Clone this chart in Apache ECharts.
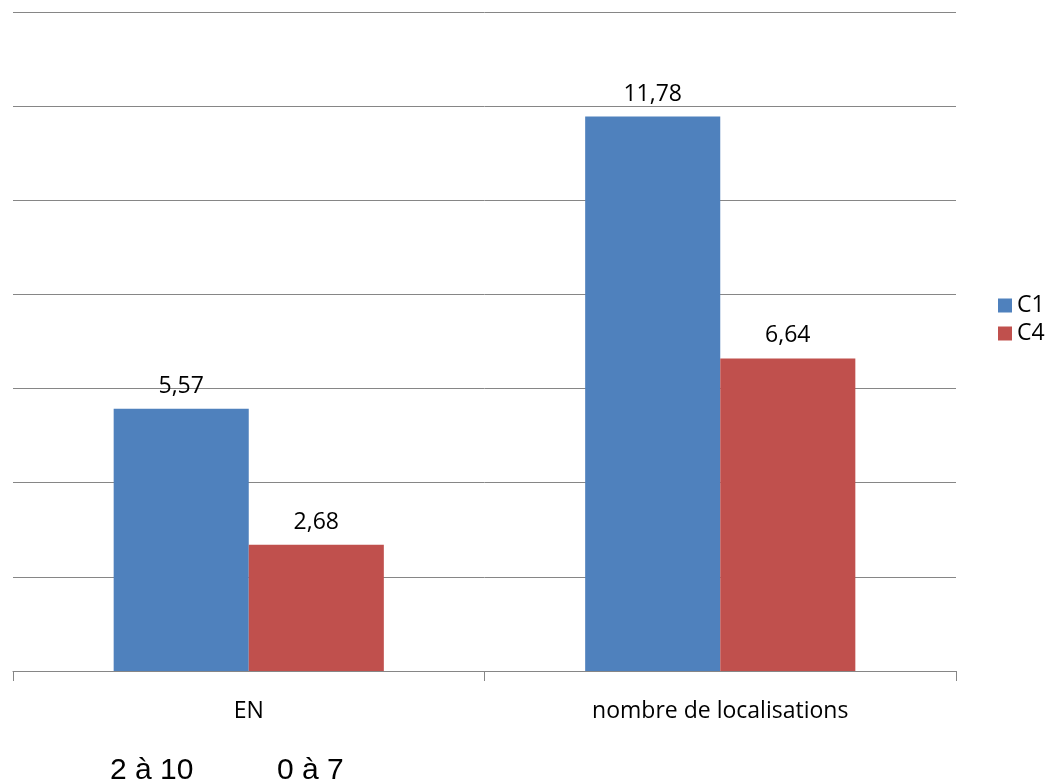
<!DOCTYPE html>
<html>
<head>
<meta charset="utf-8">
<script src="https://cdn.jsdelivr.net/npm/echarts@6/dist/echarts.min.js"></script>
<style>
  html, body { margin: 0; padding: 0; background: #fff; }
  #chart { width: 1046px; height: 783px; }
</style>
</head>
<body>
<div id="chart"></div>
<script>
// Categories and series values
const categories = ['EN', 'nombre de localisations'];
const seriesNames = ['C1', 'C4'];
const c1Values = [5.57, 11.78];
const c4Values = [2.68, 6.64];
const seriesColors = ['#4F81BD', '#C0504D'];
// Range notes printed under the chart
const rangeNotes = ['2 à 10', '0 à 7'];

const fmt = v => v.toFixed(2).replace('.', ',');
const labelFont = '"Open Sans", "Noto Sans", sans-serif';
const noteFont = '30px "Liberation Sans", Arial, sans-serif';

const barLabel = {
  show: true, position: 'top', distance: 11,
  fontFamily: labelFont, fontSize: 23, color: '#000',
  formatter: p => fmt(p.value)
};

const chart = echarts.init(document.getElementById('chart'));
chart.setOption({
  animation: false,
  backgroundColor: '#fff',
  grid: { left: 13, right: 90, top: 12, bottom: 112 },
  legend: {
    orient: 'vertical',
    left: 993,
    top: 289,
    itemWidth: 14,
    itemHeight: 14,
    itemGap: 5,
    icon: 'rect',
    textStyle: { fontFamily: labelFont, fontSize: 23, color: '#000' },
    data: seriesNames
  },
  xAxis: {
    type: 'category',
    data: categories,
    axisLine: { lineStyle: { color: '#868686', width: 1 } },
    axisTick: { show: true, length: 10, lineStyle: { color: '#868686' } },
    axisLabel: { fontFamily: labelFont, fontSize: 23, color: '#000', margin: 29 }
  },
  yAxis: {
    type: 'value',
    min: 0,
    max: 14,
    interval: 2,
    axisLine: { show: false },
    axisTick: { show: false },
    axisLabel: { show: false },
    splitLine: { lineStyle: { color: '#868686', width: 1 } }
  },
  series: [
    {
      name: seriesNames[0],
      type: 'bar',
      data: c1Values,
      barGap: '0%',
      barCategoryGap: '42.7%',
      itemStyle: { color: seriesColors[0] },
      label: barLabel
    },
    {
      name: seriesNames[1],
      type: 'bar',
      data: c4Values,
      barGap: '0%',
      barCategoryGap: '42.7%',
      itemStyle: { color: seriesColors[1] },
      label: barLabel
    }
  ],
  graphic: [
    {
      type: 'text', left: 110, top: 756,
      style: { text: rangeNotes[0], font: noteFont, fill: '#000' }
    },
    {
      type: 'text', left: 277, top: 756,
      style: { text: rangeNotes[1], font: noteFont, fill: '#000' }
    }
  ]
});
</script>
</body>
</html>
